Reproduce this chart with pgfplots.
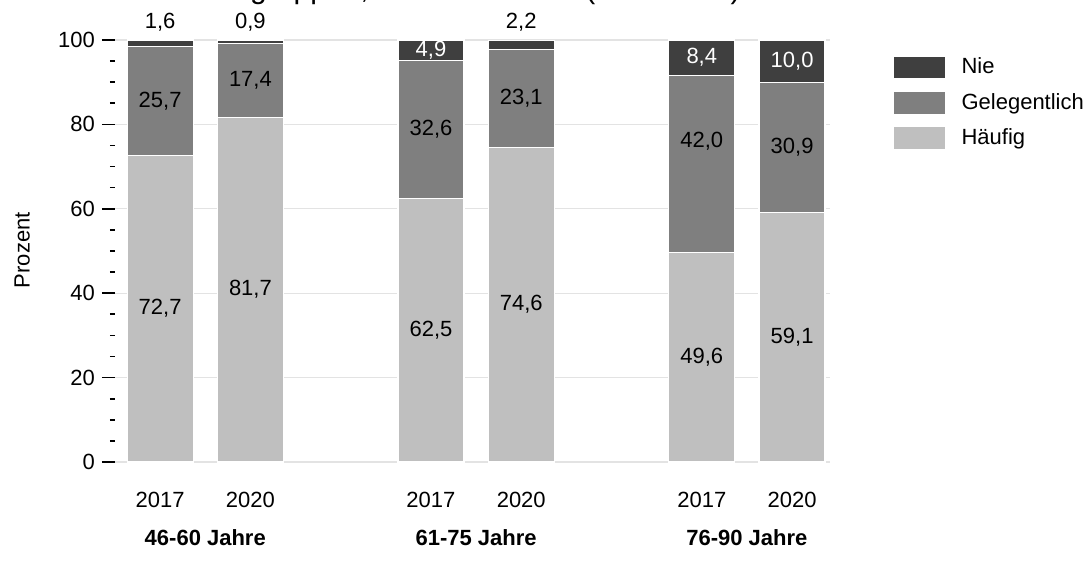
\documentclass[border=0pt]{standalone}
\usepackage{fontspec}
\setmainfont{Liberation Sans}
\usepackage{pgfplots}
\usepackage{pgfplotstable}
\pgfplotsset{compat=1.18}

\definecolor{haeufig}{HTML}{BFBFBF}
\definecolor{gelegentlich}{HTML}{7F7F7F}
\definecolor{nie}{HTML}{3F3F3F}
\definecolor{gridgray}{HTML}{E3E3E3}

% x: 0,1 = 46-60, 3,4 = 61-75, 6,7 = 76-90
% labels sit in the middle of the segment; p moves them by p*segment, ys by ys pt
% tw = percentage of white in the label colour
\pgfplotstableread{
x val lab p ys tw
0 72.7 72,7 0 0 0
1 81.7 81,7 0 0 0
3 62.5 62,5 0 0 0
4 74.6 74,6 0 0 0
6 49.6 49,6 0 0 0
7 59.1 59,1 0 0 0
}\haeufigdata

\pgfplotstableread{
x val lab p ys tw
0 25.7 25,7 0 0 0
1 17.4 17,4 0 0 0
3 32.6 32,6 0 0 0
4 23.1 23,1 0 0 0
6 42.0 42,0 0.129 0 0
7 30.9 30,9 0 0 0
}\gelegentlichdata

\pgfplotstableread{
x val lab p ys tw
0 1.6 1,6 0.5 9 0
1 0.9 0,9 0.5 9 0
3 4.9 4,9 0 0 100
4 2.2 2,2 0.5 9 0
6 8.4 8,4 0 0 100
7 10.0 10,0 0 0 100
}\niedata

\begin{document}
\begin{tikzpicture}[font=\fontsize{11}{13}\selectfont]
\begin{axis}[
    scale only axis,
    width=357.5pt, height=211pt,
    xmin=-0.5, xmax=7.42,
    ymin=0, ymax=100,
    ybar stacked,
    bar width=33pt,
    axis line style={draw=none},
    tick pos=left,
    xtick={0,1,3,4,6,7},
    xticklabels={2017,2020,2017,2020,2017,2020},
    xtick style={draw=none},
    xticklabel style={anchor=base, yshift=-16.4pt},
    ytick={0,20,40,60,80,100},
    minor y tick num=3,
    tick align=outside,
    major tick length=6.5pt,
    minor tick length=2.5pt,
    ytick style={black, line width=0.8pt},
    ymajorgrids,
    grid style={gridgray, line width=0.6pt},
    /pgf/number format/assume math mode=true,
    ylabel={Prozent},
    ylabel style={at={(axis description cs:-0.13,0.502)}, anchor=center},
    clip=false,
    point meta=explicit symbolic,
    visualization depends on={\thisrow{val} \as \yv},
    visualization depends on={\thisrow{p} \as \pp},
    visualization depends on={\thisrow{ys} \as \ys},
    visualization depends on={\thisrow{tw} \as \tw},
    nodes near coords,
    % 1 unit of y = 2.11pt
    every node near coord/.append style={anchor=center,
        yshift={\yv*\pp*2.11pt+\ys pt}, text=white!\tw!black,
        font=\fontsize{11}{13}\selectfont},
    reverse legend,
    legend style={at={(axis description cs:1.0867,0.9645)}, anchor=north west,
        draw=none, fill=none, inner sep=0pt, row sep=5.5pt,
        nodes={inner sep=0pt, anchor=west},
        /tikz/every odd column/.append style={column sep=7.5pt}},
    legend cell align=left,
    legend image code/.code={\fill[#1] (0pt,-5.75pt) rectangle (26.5pt,5.75pt);},
]
\addplot[fill=haeufig, draw=white, line width=0.6pt]
    table[x=x, y=val, meta=lab] {\haeufigdata};
\addlegendentry{Häufig}
\addplot[fill=gelegentlich, draw=white, line width=0.6pt]
    table[x=x, y=val, meta=lab] {\gelegentlichdata};
\addlegendentry{Gelegentlich}
\addplot[fill=nie, draw=white, line width=0.6pt]
    table[x=x, y=val, meta=lab] {\niedata};
\addlegendentry{Nie}

\node[font=\fontsize{11}{13}\selectfont\bfseries, yshift=-38pt] at (axis cs:0.5,0) {46-60 Jahre};
\node[font=\fontsize{11}{13}\selectfont\bfseries, yshift=-38pt] at (axis cs:3.5,0) {61-75 Jahre};
\node[font=\fontsize{11}{13}\selectfont\bfseries, yshift=-38pt] at (axis cs:6.5,0) {76-90 Jahre};
\end{axis}
% title, cut off at the top as in the original
\node[anchor=base east, inner sep=0pt, font=\fontsize{15}{18}\selectfont] at (313pt,231.5pt)
    {Altersgruppen, 2017 und 2020 (in Prozent)};
\pgfresetboundingbox
\useasboundingbox (-57.5pt,-50.5pt) rectangle (487pt,231pt);
\end{tikzpicture}
\end{document}
